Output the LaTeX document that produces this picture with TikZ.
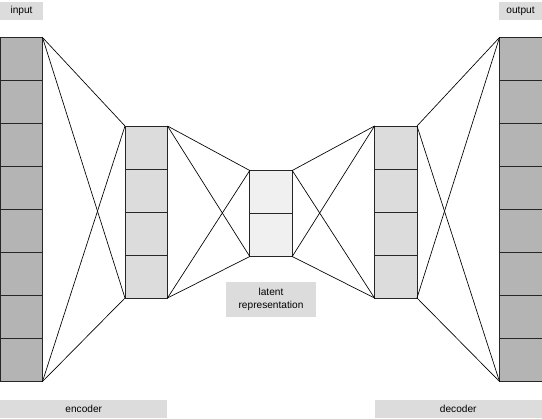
\documentclass[tikz,border=0pt]{standalone}
\usepackage{fontspec}
\setmainfont{Liberation Sans}
\usetikzlibrary{positioning}
\definecolor{cellout}{RGB}{180,180,180}
\definecolor{cellmid}{RGB}{220,220,220}
\definecolor{cellin}{RGB}{240,240,240}
\definecolor{tagfill}{RGB}{220,220,220}
\tikzset{
  cell/.style={draw=black!85, line width=0.6pt, inner sep=0pt, outer sep=0pt,
    minimum width=31.875pt, minimum height=32.25pt},
  tag/.style={fill=tagfill, inner sep=0pt, outer sep=0pt, align=center,
    font=\fontsize{7.6}{9.6}\selectfont},
  wire/.style={line width=0.5pt}
}

\begin{document}
\begin{tikzpicture}[x=0.75pt,y=0.75pt,yscale=-1,xscale=1]
	\useasboundingbox (0,0) rectangle (542,418);

	% columns
	\foreach \i in {1,...,8} {
		\node [cell, fill=cellout] (in\i) at (21.25,{16+43*\i}) {};
		\node [cell, fill=cellout] (out\i) at (520.75,{16+43*\i}) {};
	}
	\foreach \i in {1,...,4} {
		\node [cell, fill=cellmid] (enc\i) at (146.25,{104.5+43*\i}) {};
		\node [cell, fill=cellmid] (dec\i) at (395.75,{104.5+43*\i}) {};
	}
	\foreach \i in {1,2} {
		\node [cell, fill=cellin] (z\i) at (271,{170.5+43*\i-21.5}) {};
	}

	% connections
	\draw [wire] (in1.north east) -- (enc1.north west);
	\draw [wire] (in1.north east) -- (enc4.south west);
	\draw [wire] (in8.south east) -- (enc1.north west);
	\draw [wire] (in8.south east) -- (enc4.south west);

	\draw [wire] (enc1.north east) -- (z1.north west);
	\draw [wire] (enc1.north east) -- (z2.south west);
	\draw [wire] (enc4.south east) -- (z1.north west);
	\draw [wire] (enc4.south east) -- (z2.south west);

	\draw [wire] (z1.north east) -- (dec1.north west);
	\draw [wire] (z1.north east) -- (dec4.south west);
	\draw [wire] (z2.south east) -- (dec1.north west);
	\draw [wire] (z2.south east) -- (dec4.south west);

	\draw [wire] (dec1.north east) -- (out1.north west);
	\draw [wire] (dec1.north east) -- (out8.south west);
	\draw [wire] (dec4.south east) -- (out1.north west);
	\draw [wire] (dec4.south east) -- (out8.south west);

	% labels
	\node [tag, minimum width=32.25pt, minimum height=13.5pt] (inlabel) at (21.5,11) {input};
	\node [tag, minimum width=32.25pt, minimum height=13.5pt] (outlabel) at (520.5,11) {output};
	\node [tag, minimum width=125.6pt, minimum height=13.5pt] (enclabel) at (83.75,409) {encoder};
	\node [tag, minimum width=125.6pt, minimum height=13.5pt] (declabel) at (458.25,409) {decoder};
	\node [tag, minimum width=67.5pt, minimum height=26.25pt] (zlabel) at (271,299.5) {latent\\representation};
\end{tikzpicture}
\end{document}
